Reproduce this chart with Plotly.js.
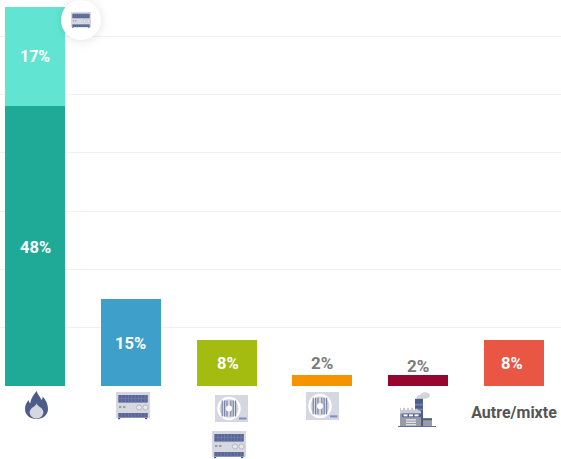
<!DOCTYPE html>
<html><head><meta charset="utf-8">
<script src="https://cdn.plot.ly/plotly-3.0.1.min.js"></script>
<style>html,body{margin:0;padding:0;background:#fff;overflow:hidden}#c{width:561px;height:459px}</style>
</head><body><div id="c"></div>
<script>
const categories = ['Gaz', 'Électrique', 'PAC + électrique', 'PAC', 'Réseau de chaleur', 'Autre/mixte'];
const tickLabels = ['', '', '', '', '', 'Autre/mixte'];
const mainValues = [48, 15, 7.9, 1.9, 1.9, 7.9];
const stackedValues = [17, 0, 0, 0, 0, 0];
const barColors = ['#1FA997', '#3F9FCB', '#A3BC0F', '#F59300', '#96062F', '#EA5644'];
const stackedColor = '#61E5D2';
const labelDx = [0, 0, 1, 0, 0, -2];
const labelDy = [-1, -1, -1, 0, -3, -1];

const W = 561, H = 459, L = 0, T = 7, B = 73, STEP = 95.8, BAR = 60;
const ph = H - T - B;

function uri(s){ return 'data:image/svg+xml;utf8,' + encodeURIComponent(s); }
function svg(w, h, inner){ return `<svg xmlns="http://www.w3.org/2000/svg" width="${w}" height="${h}" viewBox="0 0 ${w} ${h}">${inner}</svg>`; }

function rack(){
  let s = `<rect x="0" y="0" width="34" height="26" fill="#D5D8E0"/>`;
  s += `<rect x="2.3" y="3" width="29.5" height="7.6" fill="#5A6698"/>`;
  s += `<rect x="2.3" y="21" width="29.5" height="4.6" fill="#5A6698"/>`;
  const g = [];
  for (let i = 1; i < 9; i++) g.push(`<rect x="${2.3 + i * 3.3}" y="3" width=".6" height="7.6" fill="#7A85AE"/><rect x="${2.3 + i * 3.3}" y="21" width=".6" height="4.6" fill="#7A85AE"/>`);
  s += g.join('');
  s += `<rect x="2.3" y="6.5" width="29.5" height=".5" fill="#7A85AE"/>`;
  s += `<rect x="3" y="14" width="2.4" height="2" fill="#9A9DA6"/><rect x="7" y="14" width="2.4" height="2" fill="#9A9DA6"/>`;
  s += `<circle cx="23" cy="15.5" r="2.6" fill="#E6E7EB" stroke="#B5B7BE" stroke-width="1"/><circle cx="29.5" cy="15.5" r="2.6" fill="#E6E7EB" stroke="#B5B7BE" stroke-width="1"/>`;
  s += `<rect x="2" y="26" width="2.2" height="1.2" fill="#4E5A80"/><rect x="29" y="26" width="2.2" height="1.2" fill="#4E5A80"/>`;
  return uri(svg(34, 28, s));
}
function pump(){
  let s = `<rect width="33" height="27" fill="#D5D8E0"/>`;
  s += `<circle cx="14" cy="13.5" r="11.8" fill="#fff"/>`;
  s += `<circle cx="14" cy="13.5" r="9.5" fill="#D5D8E0"/>`;
  [7.2, 9.6, 12, 15.8, 18.2, 20.6].forEach(x => s += `<rect x="${x - .6}" y="5.5" width="1.2" height="16" fill="#7A84A8"/>`);
  s += `<circle cx="14" cy="13.5" r="3" fill="#fff"/>`;
  s += `<rect x="24" y="22.5" width="7.5" height="2" fill="#7F8FCB"/>`;
  return uri(svg(33, 27, s));
}
function flame(){
  const s = `<path d="M11.5 0 C13 4 15.5 6 16.5 9 C17.5 7.5 17.7 6.5 17.6 5.5 C21 9 23 13 23 18 C23 24 18 28 11.5 28 C5 28 0 24 0 18 C0 14 1.5 11.5 3.6 9 C3.8 10.5 4.3 11.5 5.2 12.3 C5.5 8 8.5 4 11.5 0 Z" fill="#4E5D87"/>
  <path d="M11.5 12.5 C12.5 15 15 15.5 16.5 17.3 C18 19 18.6 20.5 18.3 22 C17.8 25 15 27.5 11.5 27.5 C8 27.5 5.2 25 4.7 22 C4.4 20 5.5 18.3 7.5 16.5 C9.3 15.3 10.8 14.5 11.5 12.5 Z" fill="#D5D8E0"/>`;
  return uri(svg(23, 28, s));
}
function factory(){
  const s = `<ellipse cx="27" cy="3.6" rx="5" ry="3.4" fill="#D3D5DA"/><ellipse cx="22" cy="5.5" rx="3.5" ry="2.5" fill="#D3D5DA"/>
  <rect x="17" y="7" width="8" height="28" fill="#4E5D87"/>
  <rect x="17" y="12" width="8" height="2" fill="#6F7FB8"/><rect x="17" y="17" width="8" height="2" fill="#6F7FB8"/>
  <rect x="25" y="27" width="9" height="8" fill="#9A9DA6"/><rect x="25" y="27" width="9" height="2" fill="#4E5D87"/>
  <path d="M2 35 V16 L4 20 L6 16 L8 20 L10 16 L12 20 L14 16 L16 20 L18 17 L23 20 V35 Z" fill="#9A9CA3"/>
  <path d="M2 16 L4 20 L6 16 L8 20 L10 16 L12 20 L14 16 L16 20 L18 17 L23 20 V22 H2 Z" fill="#C9CBD0"/>
  <rect x="4" y="22" width="19" height="4" rx="1" fill="#5161A0"/>
  <rect x="5.5" y="23" width="4" height="2" fill="#fff"/><rect x="11" y="23" width="4" height="2" fill="#fff"/><rect x="16.5" y="23" width="4" height="2" fill="#fff"/>
  <rect x="8" y="28" width="10" height="1.3" fill="#E5E7EE"/><rect x="8" y="30.5" width="10" height="1.3" fill="#E5E7EE"/><rect x="8" y="33" width="10" height="1.3" fill="#E5E7EE"/>
  <rect x="0" y="35" width="38" height="0.9" fill="#4E5D87"/>`;
  return uri(svg(38, 37, s));
}
function badge(){
  const s = `<defs><filter id="f" x="-50%" y="-50%" width="200%" height="200%"><feGaussianBlur stdDeviation="5"/></filter></defs>
  <circle cx="30" cy="31" r="20" fill="#000" fill-opacity=".12" filter="url(#f)"/><circle cx="30" cy="30" r="20" fill="#fff"/>`;
  return uri(svg(60, 60, s));
}
function place(source, x, y, w, h){
  return {source, xref:'paper', yref:'paper', x:(x - L) / W, y:(H - B - y) / ph,
          sizex:w / W, sizey:h / ph, sizing:'stretch', xanchor:'left', yanchor:'top', layer:'above'};
}

const xs = categories.map((_, i) => i);
const traces = [
  {type:'bar', x:xs, y:mainValues, width:BAR / STEP, marker:{color:barColors, line:{width:0}}, hoverinfo:'skip', showlegend:false},
  {type:'bar', x:xs, y:stackedValues, width:BAR / STEP, marker:{color:stackedColor, line:{width:0}}, hoverinfo:'skip', showlegend:false}
];
const annotations = [];
mainValues.forEach((v, i) => {
  const small = v < 5;
  annotations.push({x:i, y:small ? v : v / 2, xref:'x', yref:'y', text:Math.round(v) + '%', showarrow:false,
    yanchor:small ? 'bottom' : 'middle', xshift:labelDx[i], yshift:labelDy[i],
    font:{family:'Roboto', size:small ? 17 : 16.5, color:small ? '#7B7B7B' : '#fff', weight:700}});
});
stackedValues.forEach((v, i) => {
  if (v) annotations.push({x:i, y:mainValues[i] + v / 2, xref:'x', yref:'y', text:v + '%', showarrow:false, yanchor:'middle',
    font:{family:'Roboto', size:16, color:'#fff', weight:700}});
});

const layout = {
  width:W, height:H, margin:{l:L, r:0, t:T, b:B, pad:0}, paper_bgcolor:'#fff', plot_bgcolor:'#fff',
  barmode:'stack', bargap:0, showlegend:false,
  xaxis:{range:[-35 / STEP, (W - 35) / STEP], tickmode:'array', tickvals:xs, ticktext:tickLabels, showgrid:false, zeroline:false,
         showline:false, ticks:'', ticklen:0, tickangle:0, fixedrange:true, automargin:false, ticklabelstandoff:15,
         tickfont:{family:'Roboto', size:16, color:'#555', weight:700}},
  yaxis:{range:[0, 65], dtick:10, tick0:0, showticklabels:false, showgrid:true, gridcolor:'#F1F1F1', gridwidth:1,
         zeroline:false, showline:false, ticks:'', fixedrange:true, automargin:false},
  annotations,
  images:[
    place(badge(), 51, -10, 60, 60),
    place(rack(), 71, 12, 20, 16.5),
    place(flame(), 25, 391, 23, 28),
    place(rack(), 116, 392, 34, 28),
    place(pump(), 215, 395, 33, 27),
    place(rack(), 212, 431, 34, 28),
    place(pump(), 306, 392, 33, 28),
    place(factory(), 398, 392, 38, 36)
  ]
};
Plotly.newPlot('c', traces, layout, {displayModeBar:false, staticPlot:true});
</script></body></html>
